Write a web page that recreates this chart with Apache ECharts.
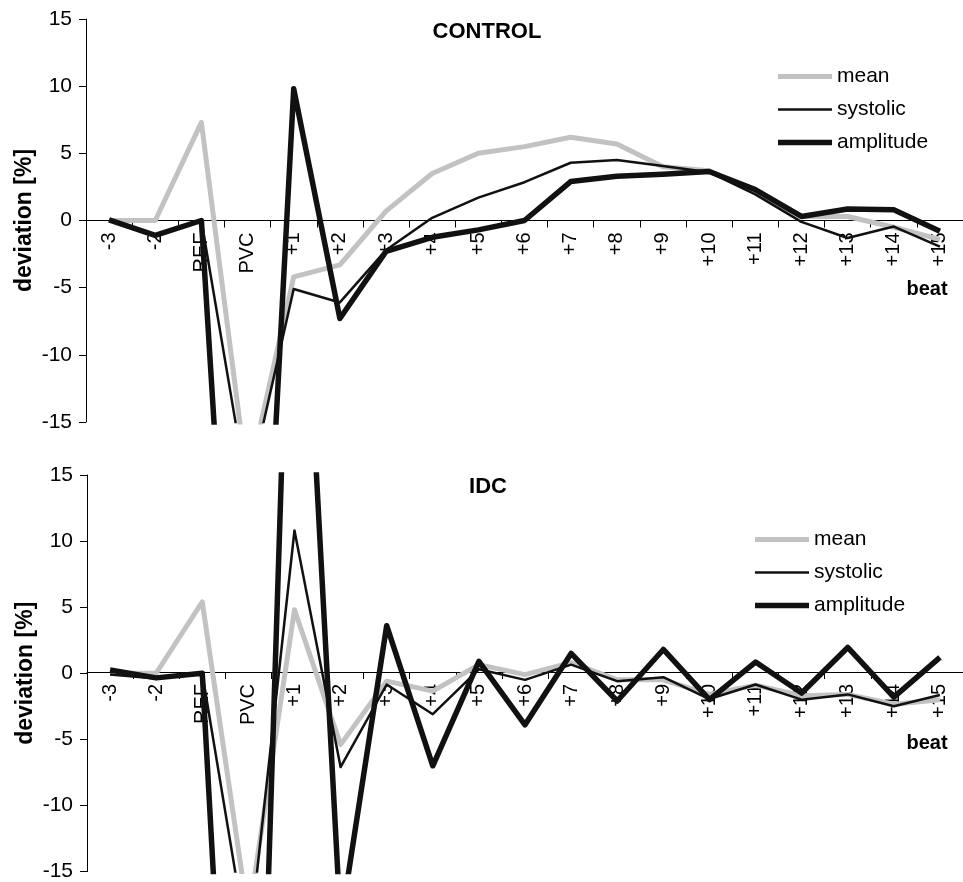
<!DOCTYPE html>
<html>
<head>
<meta charset="utf-8">
<script src="https://cdn.jsdelivr.net/npm/echarts@6/dist/echarts.min.js"></script>
<style>
  html, body { margin: 0; padding: 0; background: #fff; }
  #chart { width: 963px; height: 882px; }
</style>
</head>
<body>
<div id="chart"></div>
<script>
/* ===== data ===== */
const beats = ["-3", "-2", "REF", "PVC", "+1", "+2", "+3", "+4", "+5", "+6", "+7", "+8", "+9", "+10", "+11", "+12", "+13", "+14", "+15"];
const yTicks = [-15, -10, -5, 0, 5, 10, 15];

const controlMean = [0, 0, 7.3, -19.5, -4.2, -3.3, 0.7, 3.5, 5.0, 5.5, 6.2, 5.7, 4.0, 3.7, 2.1, 0.3, 0.3, -0.5, -1.4];
const controlSystolic = [0, -1.1, 0, -20.3, -5.1, -6.1, -2.2, 0.2, 1.7, 2.85, 4.3, 4.5, 4.05, 3.6, 1.95, -0.1, -1.3, -0.45, -1.95];
const controlAmplitude = [0.05, -1.1, 0, -55, 9.8, -7.3, -2.3, -1.25, -0.7, 0, 2.9, 3.3, 3.45, 3.65, 2.3, 0.3, 0.85, 0.8, -0.8];

const idcMean = [0, 0, 5.4, -18.5, 4.8, -5.4, -0.6, -1.35, 0.65, -0.1, 0.8, -0.5, -0.5, -1.6, -0.9, -1.7, -1.6, -2.35, -2.0];
const idcSystolic = [-0.1, -0.4, 0, -21, 10.8, -7.1, -0.85, -3.1, 0.3, -0.5, 0.65, -0.6, -0.3, -1.95, -0.85, -2.0, -1.6, -2.5, -1.65];
const idcAmplitude = [0.25, -0.35, 0, -63, 46, -19, 3.6, -7.0, 0.9, -3.9, 1.5, -2.1, 1.8, -2.0, 0.85, -1.5, 1.95, -1.8, 1.2];

const panelTitles = ["CONTROL", "IDC"];
const seriesNames = ["mean", "systolic", "amplitude"];

/* ===== styles ===== */
const FONT = "Liberation Sans";
const lineStyles = {
    mean: { color: "#c2c2c2", width: 5 },
    systolic: { color: "#111", width: 2.5 },
    amplitude: { color: "#111", width: 5.5 },
};
const grids = [
    { left: 86, top: 19, width: 888, height: 403 },
    { left: 87, top: 475, width: 888, height: 399 },
];

const chart = echarts.init(document.getElementById("chart"));

// x axis sits on the zero line: shift it up by half the grid height
function xAxisFor(idx) {
    return {
        type: "category", gridIndex: idx, data: beats, boundaryGap: true,
        offset: -grids[idx].height / 2,
        axisLine: { onZero: false, lineStyle: { color: "#000", width: 1 } },
        axisTick: { show: true, interval: 0, inside: false, length: 7, lineStyle: { color: "#000" } },
        axisLabel: { interval: 0, rotate: 90, margin: 12, color: "#000", fontFamily: FONT, fontSize: 20 },
        splitLine: { show: false },
    };
}

function yAxisFor(idx) {
    return {
        type: "value", gridIndex: idx, min: yTicks[0], max: yTicks[yTicks.length - 1], interval: 5,
        name: "deviation [%]", nameLocation: "middle", nameGap: 50, nameMoveOverlap: false,
        nameTextStyle: { color: "#000", fontFamily: FONT, fontSize: 23, fontWeight: "bold" },
        axisLine: { show: true, lineStyle: { color: "#000", width: 1 } },
        axisTick: { show: true, length: 7, lineStyle: { color: "#000" } },
        axisLabel: { margin: 14, color: "#000", fontFamily: FONT, fontSize: 21 },
        splitLine: { show: false },
    };
}

function lineSeries(name, idx, data) {
    return {
        name: name + (idx ? " " : ""), type: "line", xAxisIndex: idx, yAxisIndex: idx, data: data,
        symbol: "none", smooth: false, clip: true,
        lineStyle: Object.assign({ join: "round" }, lineStyles[name]),
        itemStyle: { color: lineStyles[name].color },
        z: name === "amplitude" ? 4 : name === "systolic" ? 3 : 2,
    };
}

// legend keys: flat bars as thick as each line
function legendFor(idx, left, top) {
    return {
        data: seriesNames.map(n => ({
            name: n + (idx ? " " : ""),
            icon: "path://M0,0H54V" + lineStyles[n].width + "H0Z",
        })),
        orient: "vertical", left: left, top: top, itemGap: 12, padding: 0,
        itemWidth: 54, itemHeight: 20, selectedMode: false, symbolKeepAspect: true,
        textStyle: { color: "#000", fontFamily: FONT, fontSize: 21 },
        formatter: n => n.trim(),
    };
}

const option = {
    animation: false,
    backgroundColor: "#fff",
    grid: grids,
    xAxis: [xAxisFor(0), xAxisFor(1)],
    yAxis: [yAxisFor(0), yAxisFor(1)],
    legend: [legendFor(0, 778, 66), legendFor(1, 755, 529)],
    graphic: [
        { type: "text", x: 487, y: 32, style: { text: panelTitles[0], fill: "#000", font: "bold 22px " + FONT, textAlign: "center", textVerticalAlign: "middle" } },
        { type: "text", x: 488, y: 487, style: { text: panelTitles[1], fill: "#000", font: "bold 22px " + FONT, textAlign: "center", textVerticalAlign: "middle" } },
        { type: "text", x: 927, y: 289, style: { text: "beat", fill: "#000", font: "bold 20px " + FONT, textAlign: "center", textVerticalAlign: "middle" } },
        { type: "text", x: 927, y: 743, style: { text: "beat", fill: "#000", font: "bold 20px " + FONT, textAlign: "center", textVerticalAlign: "middle" } },
    ],
    series: [
        lineSeries("mean", 0, controlMean),
        lineSeries("systolic", 0, controlSystolic),
        lineSeries("amplitude", 0, controlAmplitude),
        lineSeries("mean", 1, idcMean),
        lineSeries("systolic", 1, idcSystolic),
        lineSeries("amplitude", 1, idcAmplitude),
    ],
};

chart.setOption(option);
</script>
</body>
</html>
